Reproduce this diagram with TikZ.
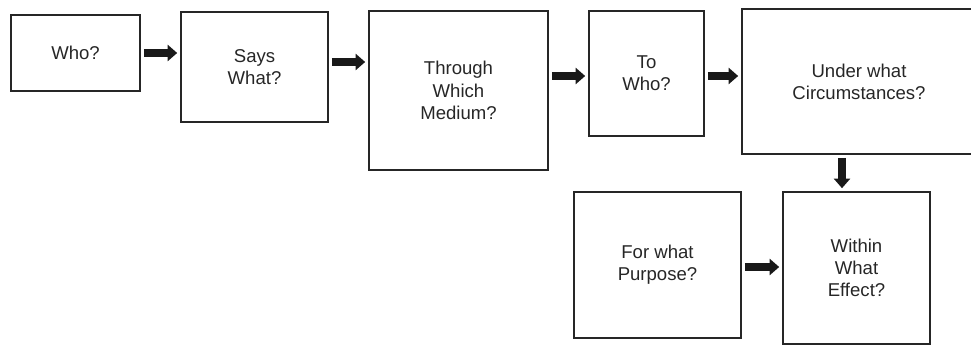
\documentclass[tikz,border=0pt]{standalone}
\usepackage{fontspec}
\setmainfont{Liberation Sans}
\usetikzlibrary{arrows.meta}

\begin{document}
\begin{tikzpicture}[x=0.025cm,y=-0.025cm,
            box/.style={draw=black!85,line width=1.4pt,align=center,inner sep=0pt,
              text=black!85,font=\fontsize{13.2}{15.8}\selectfont},
            fat/.style={draw=black!90,line width=5.7pt,shorten <=2pt,shorten >=2pt,
              -{Triangle[length=6.8pt,width=11.4pt]}}]
        \useasboundingbox (0,0) rectangle (971,347);

        % top row
        \node[box,minimum width=3.225cm,minimum height=1.9cm] (who) at (75.5,53) {Who?};
        \node[box,minimum width=3.675cm,minimum height=2.75cm] (says) at (254.5,67) {Says\\What?};
        \node[box,minimum width=4.475cm,minimum height=3.975cm] (medium) at (458.5,90.5) {Through\\Which\\Medium?};
        \node[box,minimum width=2.875cm,minimum height=3.125cm] (towho) at (646.5,73.5) {To\\Who?};
        \node[box,minimum width=5.85cm,minimum height=3.625cm] (under) at (859,81.5) {Under what\\Circumstances?};

        % bottom row
        \node[box,minimum width=4.175cm,minimum height=3.65cm] (purpose) at (657.5,265) {For what\\Purpose?};
        \node[box,minimum width=3.675cm,minimum height=3.8cm] (effect) at (856.5,268) {Within\\What\\Effect?};

        \draw[fat] (who.east) -- (who.east -| says.west);
        \draw[fat] (says.east |- 0,62) -- (medium.west |- 0,62);
        \draw[fat] (medium.east |- 0,76) -- (towho.west |- 0,76);
        \draw[fat] (towho.east |- 0,76) -- (under.west |- 0,76);
        \draw[fat] (under.south -| 842,0) -- (effect.north -| 842,0);
        \draw[fat] (purpose.east |- 0,267) -- (effect.west |- 0,267);
    \end{tikzpicture}
\end{document}
